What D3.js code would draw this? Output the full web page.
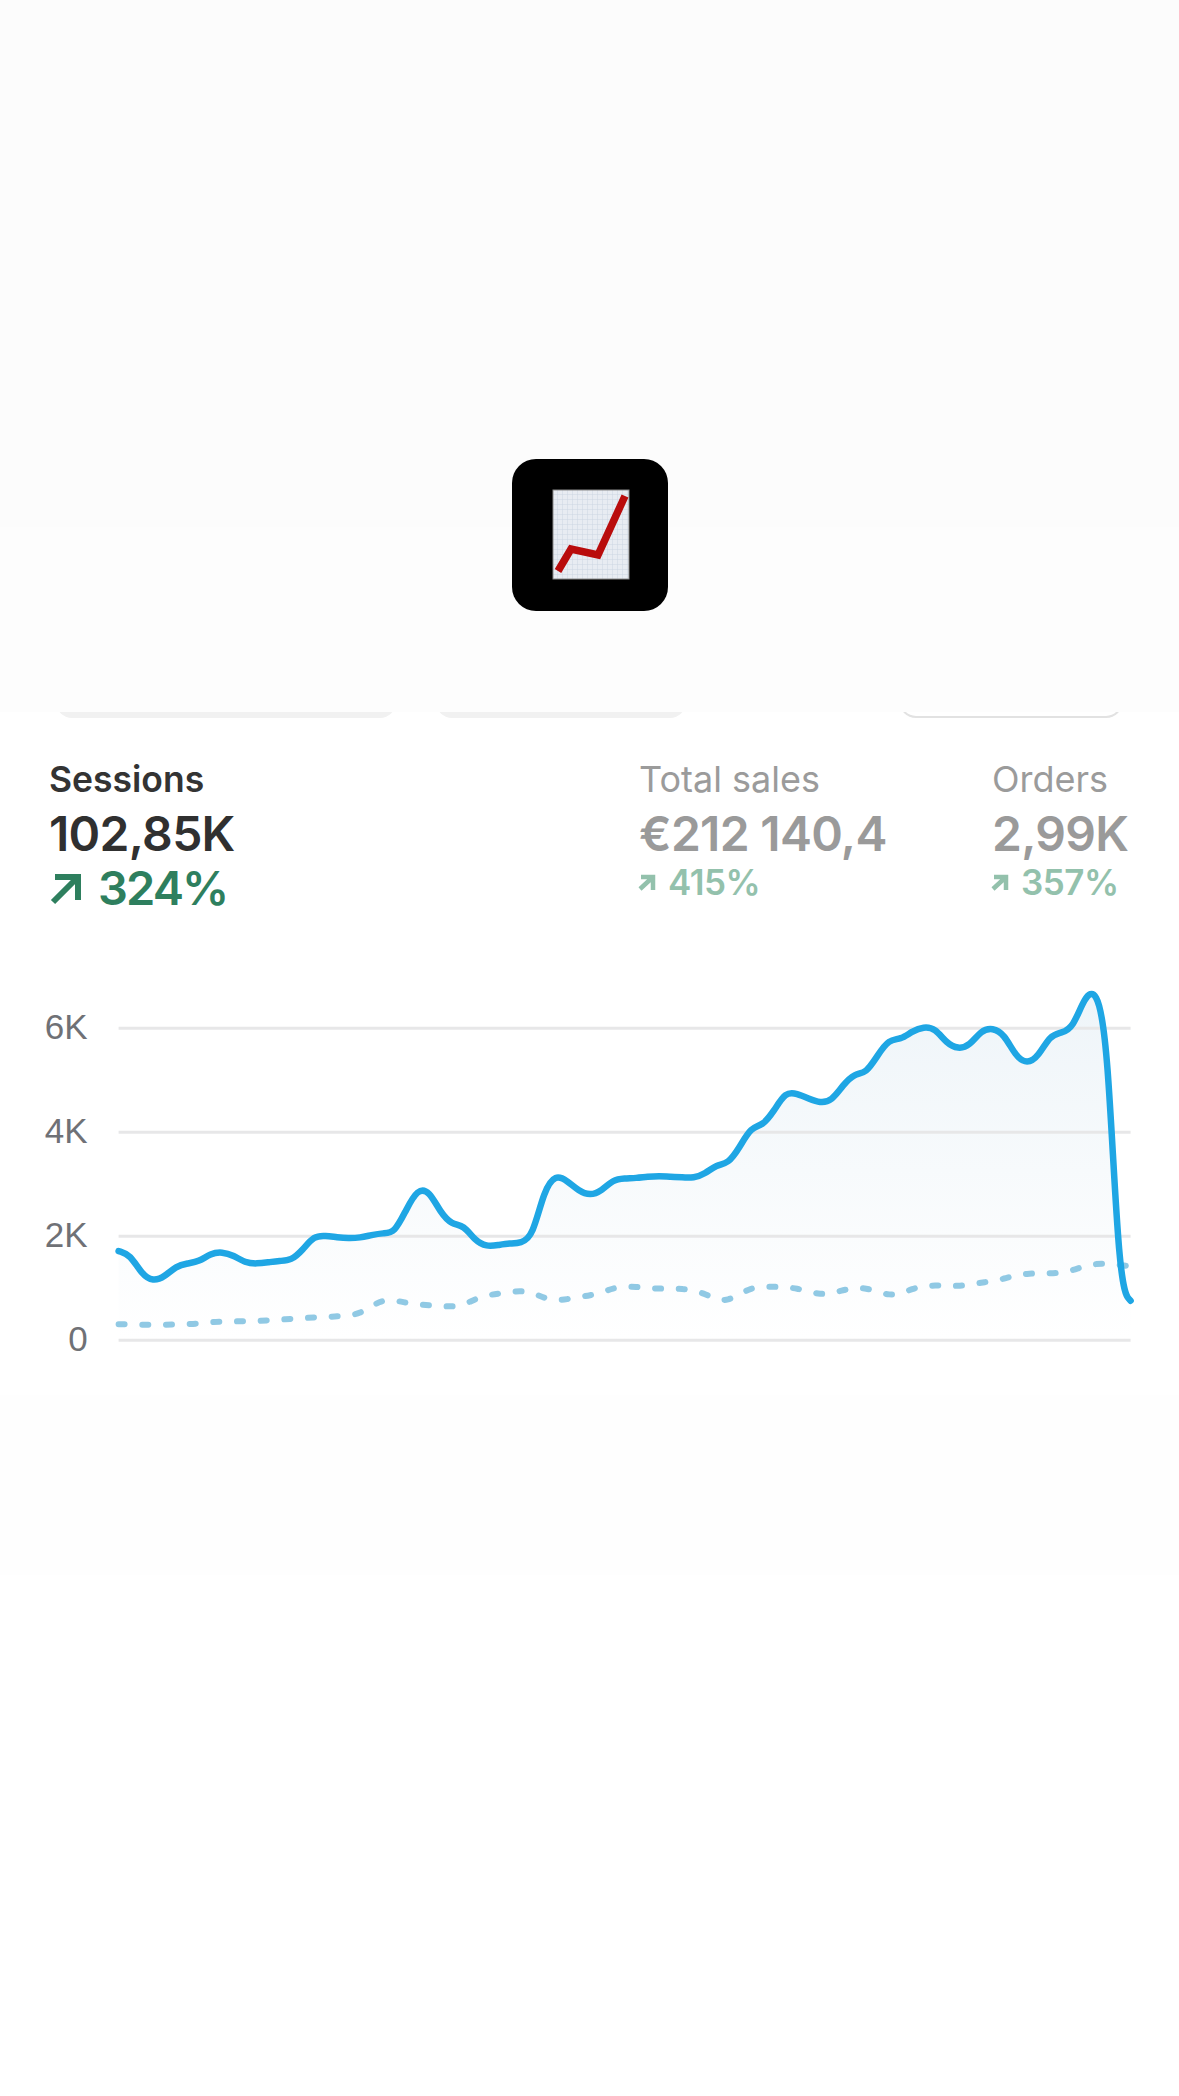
<!DOCTYPE html>
<html>
<head>
<meta charset="utf-8">
<title>Sessions chart</title>
<script src="https://d3js.org/d3.v7.min.js"></script>
<style>
  html, body { margin: 0; padding: 0; background: #fff; }
  svg { display: block; font-family: Inter, "Noto Sans", sans-serif; }
  .grid line { stroke: #e7e7e8; stroke-width: 3px; }
  .grid text { fill: #6f7176; font-size: 35px; }
  .grid .domain { display: none; }
</style>
</head>
<body>
<svg id="chart" width="1179" height="2096"></svg>
<script>
const kpiNames = ['Sessions', 'Total sales', 'Orders'];
const kpiValues = ['102,85K', '€212 140,4', '2,99K'];
const kpiChanges = ['324%', '415%', '357%'];

const yTicks = [0, 2000, 4000, 6000];
const yTickLabels = ['0', '2K', '4K', '6K'];

const sessions = [
  1705, 1640, 1260, 1120, 1210, 1417, 1468, 1500, 1660, 1690,
  1622, 1480, 1460, 1487, 1519, 1520, 1724, 2000, 2000, 1968,
  1950, 1961, 2013, 2051, 2050, 2500, 2900, 2870, 2440, 2210,
  2210, 1900, 1790, 1820, 1852, 1860, 1980, 2880, 3180, 3060,
  2860, 2770, 2860, 3080, 3102, 3109, 3134, 3147, 3134, 3122,
  3110, 3190, 3370, 3380, 3700, 4090, 4115, 4400, 4770, 4730,
  4640, 4550, 4590, 4900, 5120, 5120, 5470, 5780, 5770, 5930,
  6020, 5990, 5700, 5590, 5650, 5950, 6000, 5880, 5450, 5300,
  5450, 5860, 5900, 6000, 6596, 6757, 5827, 987, 750
];

const sessionsPrevious = [
  295, 295, 288, 288, 288, 295, 301, 308, 340, 346,
  353, 353, 359, 372, 391, 397, 417, 429, 436, 449,
  462, 506, 647, 763, 756, 712, 679, 660, 647, 635,
  667, 782, 853, 885, 917, 942, 904, 801, 756, 776,
  820, 853, 904, 994, 1019, 1019, 994, 981, 981, 981,
  942, 885, 763, 756, 872, 994, 1019, 1019, 1006, 987,
  923, 872, 891, 955, 994, 994, 917, 859, 878, 981,
  1026, 1045, 1038, 1032, 1058, 1096, 1128, 1173, 1237, 1269,
  1276, 1276, 1288, 1340, 1417, 1461, 1461, 1436, 1410
];

const svg = d3.select('#chart');

// page background, slightly off-white bands from the overlay
svg.append('rect').attr('width', 1179).attr('height', 527).attr('fill', '#fcfcfc');
svg.append('rect').attr('y', 527).attr('width', 1179).attr('height', 185).attr('fill', '#fdfdfd');
svg.append('rect').attr('y', 1395).attr('width', 1179).attr('height', 180).attr('fill', '#fefefe');

// filter chips cut off by the overlay
const chips = svg.append('g');
chips.append('rect').attr('x', 56).attr('y', 680).attr('width', 340).attr('height', 38).attr('rx', 16).attr('fill', '#f1f1f1');
chips.append('rect').attr('x', 436).attr('y', 680).attr('width', 250).attr('height', 38).attr('rx', 16).attr('fill', '#f1f1f1');
chips.append('rect').attr('x', 900).attr('y', 680).attr('width', 222).attr('height', 37).attr('rx', 16).attr('fill', '#fff').attr('stroke', '#e2e2e2').attr('stroke-width', 2);
svg.append('rect').attr('y', 660).attr('width', 1179).attr('height', 52).attr('fill', '#fdfdfd');

// app icon
const defs = svg.append('defs');
const pattern = defs.append('pattern').attr('id', 'paper').attr('width', 5).attr('height', 5).attr('patternUnits', 'userSpaceOnUse');
pattern.append('rect').attr('width', 5).attr('height', 5).attr('fill', '#e8ecf2');
pattern.append('path').attr('d', 'M0 0H5M0 0V5').attr('stroke', '#ccd6e2').attr('stroke-width', 1);

const icon = svg.append('g').attr('transform', 'translate(512,459)');
icon.append('rect').attr('width', 156).attr('height', 152).attr('rx', 24).attr('fill', '#000');
icon.append('rect').attr('x', 41).attr('y', 31).attr('width', 76).attr('height', 89).attr('fill', 'url(#paper)').attr('stroke', '#8a8a8a').attr('stroke-width', 1);
icon.append('polyline')
  .attr('points', [[46, 112], [59, 90], [86, 96], [113, 37]].join(' '))
  .attr('fill', 'none').attr('stroke', '#b90c0c').attr('stroke-width', 7.5).attr('stroke-linejoin', 'miter');

// KPI header
const kpiX = [49, 639, 992];
const kpi = svg.append('g').selectAll('g')
  .data(kpiNames)
  .join('g')
  .attr('transform', (d, i) => 'translate(' + kpiX[i] + ',0)');

kpi.append('text')
  .attr('y', 792)
  .attr('font-size', (d, i) => i === 0 ? 35.5 : 36)
  .attr('font-weight', (d, i) => i === 0 ? 600 : 400)
  .attr('fill', (d, i) => i === 0 ? '#333' : '#9b9b9b')
  .text(d => d);

kpi.append('text')
  .attr('y', 851)
  .attr('font-size', 48)
  .attr('font-weight', 600)
  .attr('letter-spacing', -0.7)
  .attr('fill', (d, i) => i === 0 ? '#303030' : '#9a9a9a')
  .text((d, i) => kpiValues[i]);

kpi.append('text')
  .attr('x', (d, i) => i === 0 ? 49 : 29)
  .attr('y', (d, i) => i === 0 ? 905 : 895)
  .attr('font-size', (d, i) => i === 0 ? 47 : 35)
  .attr('font-weight', 600)
  .attr('letter-spacing', (d, i) => i === 0 ? -1.9 : -0.5)
  .attr('fill', (d, i) => i === 0 ? '#2e7f5e' : '#93c1ac')
  .text((d, i) => kpiChanges[i]);

// little up-right arrows
kpi.append('path')
  .attr('d', (d, i) => i === 0
    ? 'M6 877H29V900M29 877L4 902'
    : 'M2 877H14V890M14 877L1 889')
  .attr('fill', 'none')
  .attr('stroke', (d, i) => i === 0 ? '#2e7f5e' : '#93c1ac')
  .attr('stroke-width', (d, i) => i === 0 ? 6 : 4.5);

// chart
const x = d3.scaleLinear().domain([0, sessions.length - 1]).range([118.6, 1130.6]);
const y = d3.scaleLinear().domain([0, 6000]).range([1339.7, 1027.7]);

const gradient = defs.append('linearGradient')
  .attr('id', 'sessionsFill')
  .attr('gradientUnits', 'userSpaceOnUse')
  .attr('x1', 0).attr('x2', 0)
  .attr('y1', y(6500)).attr('y2', y(0));
gradient.append('stop').attr('offset', 0).attr('stop-color', '#eff5f9');
gradient.append('stop').attr('offset', 1).attr('stop-color', '#ffffff');

const curve = d3.curveBasis;

const area = d3.area()
  .x((d, i) => x(i))
  .y0(y(0))
  .y1(d => y(d))
  .curve(curve);

svg.append('path')
  .datum(sessions)
  .attr('d', area)
  .attr('fill', 'url(#sessionsFill)');

svg.append('g')
  .attr('class', 'grid')
  .attr('transform', 'translate(118.6,0)')
  .call(d3.axisLeft(y)
    .tickValues(yTicks)
    .tickFormat((d, i) => yTickLabels[i])
    .tickSize(-1012)
    .tickPadding(31));

const line = d3.line()
  .x((d, i) => x(i))
  .y(d => y(d))
  .curve(curve);

svg.append('path')
  .datum(sessionsPrevious)
  .attr('d', line)
  .attr('fill', 'none')
  .attr('stroke', '#90c9e4')
  .attr('stroke-width', 6)
  .attr('stroke-linecap', 'round')
  .attr('stroke-dasharray', '6 17.7');

svg.append('path')
  .datum(sessions)
  .attr('d', line)
  .attr('fill', 'none')
  .attr('stroke', '#1fa6e4')
  .attr('stroke-width', 6.5)
  .attr('stroke-linejoin', 'round')
  .attr('stroke-linecap', 'round');
</script>
</body>
</html>
